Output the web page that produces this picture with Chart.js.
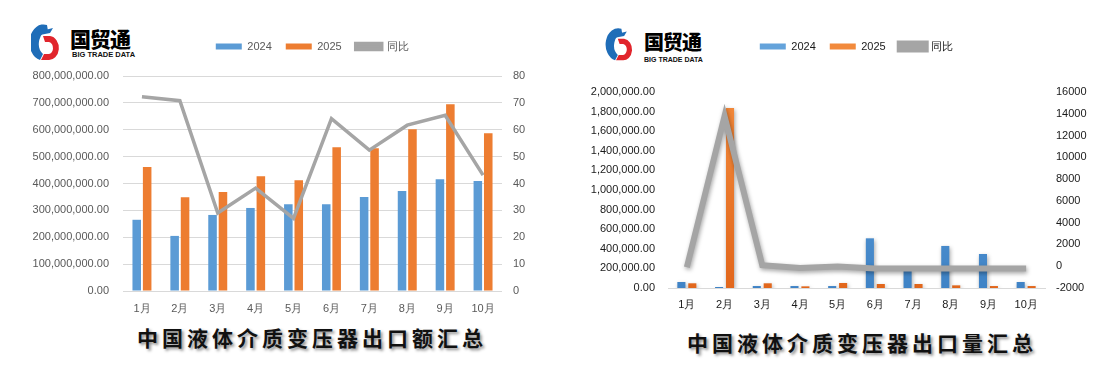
<!DOCTYPE html>
<html><head><meta charset="utf-8">
<script src="https://cdn.jsdelivr.net/npm/chart.js@4.4.1/dist/chart.umd.min.js"></script>
<style>
html,body{margin:0;padding:0;background:#fff;}
body{width:1109px;height:380px;position:relative;overflow:hidden;font-family:"Liberation Sans",Arial,sans-serif;}
.panel{position:absolute;top:0;}
.title{position:absolute;font-family:"Noto Sans CJK SC",sans-serif;font-weight:700;font-size:21px;letter-spacing:4px;color:#111;text-shadow:2px 2px 3px rgba(0,0,0,.45);white-space:nowrap;line-height:24px;}
.logo-icon{position:absolute;}
.logo-cn{position:absolute;font-family:"Noto Sans CJK SC",sans-serif;font-weight:900;color:#000;white-space:nowrap;line-height:1;letter-spacing:-1px;}
.logo-en{position:absolute;font-family:"Liberation Sans",Arial,sans-serif;font-weight:700;color:#111;white-space:nowrap;line-height:1;}
</style></head>
<body>
<!-- logos -->
<svg class="logo-icon" style="left:31px;top:23px" width="30" height="40" viewBox="0 0 30 40">
  <path d="M16 2 A14 18 0 0 0 9 37 L12 31 A9 12.5 0 0 1 17 8 Z" fill="#1F6DB8"/>
  <path d="M6 9 L22 5 L19 10 L9 12 Z" fill="#1F6DB8"/>
  <path d="M12 13 L19 13 A9 11 0 0 1 17 37 L10 37 L13 31 L17 31 A4.5 6 0 0 0 18 19 L14 19 Z" fill="#E1252C"/>
</svg>
<div class="logo-cn" style="left:70px;top:28px;font-size:21px;">国贸通</div>
<div class="logo-en" style="left:72px;top:51px;font-size:7.5px;">BIG TRADE DATA</div>

<svg class="logo-icon" style="left:604px;top:27px" width="33" height="36" viewBox="0 0 30 40">
  <path d="M16 2 A14 18 0 0 0 9 37 L12 31 A9 12.5 0 0 1 17 8 Z" fill="#1F6DB8"/>
  <path d="M6 9 L22 5 L19 10 L9 12 Z" fill="#1F6DB8"/>
  <path d="M12 13 L19 13 A9 11 0 0 1 17 37 L10 37 L13 31 L17 31 A4.5 6 0 0 0 18 19 L14 19 Z" fill="#E1252C"/>
</svg>
<div class="logo-cn" style="left:644px;top:32px;font-size:20px;">国贸通</div>
<div class="logo-en" style="left:644px;top:56px;font-size:7px;">BIG TRADE DATA</div>

<div class="panel" style="left:0;"><canvas id="c1" width="555" height="320"></canvas></div>
<div class="panel" style="left:555px;"><canvas id="c2" width="554" height="320"></canvas></div>

<div class="title" style="left:137px;top:325px;">中国液体介质变压器出口额汇总</div>
<div class="title" style="left:687px;top:330px;">中国液体介质变压器出口量汇总</div>

<script>
// ---- data ----
const months = ['1月','2月','3月','4月','5月','6月','7月','8月','9月','10月'];
const seriesNames = ['2024','2025','同比'];
const amount2024 = [265000000, 205000000, 283000000, 309000000, 323000000, 323000000, 350000000, 372000000, 416000000, 409000000];
const amount2025 = [461000000, 349000000, 368000000, 427000000, 412000000, 535000000, 531000000, 602000000, 695000000, 587000000];
const amountYoY  = [72.3, 70.8, 29.0, 38.3, 27.0, 64.1, 52.4, 61.7, 65.4, 43.1];
const qty2024 = [61000, 10000, 20000, 20000, 20000, 507000, 187000, 429000, 347000, 61000];
const qty2025 = [48000, 1836000, 48000, 17000, 51000, 41000, 41000, 27000, 20000, 20000];
const qtyYoY  = [-100, 13800, 100, -170, -30, -200, -200, -200, -200, -200];

Chart.defaults.font.family = "'Liberation Sans', Arial, sans-serif";
Chart.defaults.font.size = 11;

const fmt2 = v => Number(v).toLocaleString('en-US',{minimumFractionDigits:2, maximumFractionDigits:2});
const byIndex = (a, b) => a.datasetIndex - b.datasetIndex;

// ---- chart 1 : amount ----
const c1Color = '#595959';
new Chart(document.getElementById('c1'), {
  type: 'bar',
  data: {
    labels: months,
    datasets: [
      {label: seriesNames[0], data: amount2024, backgroundColor:'#5B9BD5', yAxisID:'y', order:1, categoryPercentage:0.55, barPercentage:0.82},
      {label: seriesNames[1], data: amount2025, backgroundColor:'#ED7D31', yAxisID:'y', order:1, categoryPercentage:0.55, barPercentage:0.82},
      {type:'line', label: seriesNames[2], data: amountYoY, borderColor:'#A5A5A5', backgroundColor:'#A5A5A5', borderWidth:3.5, pointRadius:0, tension:0, yAxisID:'y1', order:0}
    ]
  },
  options: {
    responsive:false, animation:false, devicePixelRatio:1,
    layout:{padding:{top:27,left:0,right:0,bottom:0}},
    plugins:{
      legend:{fullSize:false, labels:{boxWidth:26, boxHeight:6, padding:14, color:c1Color, font:{size:11}, sort:byIndex}},
      title:{display:true, text:' ', weight:500, font:{size:1}, padding:{top:0,bottom:12.8}},
      tooltip:{enabled:false}
    },
    scales:{
      x:{grid:{display:false, drawTicks:false}, border:{display:false}, ticks:{padding:11, color:c1Color, font:{size:11}}, afterFit:s=>{s.height=29;}},
      y:{position:'left', min:0, max:800000000, ticks:{stepSize:100000000, padding:14, color:c1Color, callback:v=>fmt2(v)}, grid:{color:'#D9D9D9', drawTicks:false}, border:{display:false}, afterFit:s=>{s.width=123;}},
      y1:{position:'right', min:0, max:80, ticks:{stepSize:10, padding:11, color:c1Color, callback:v=>String(v)}, grid:{display:false, drawTicks:false}, border:{display:false}, afterFit:s=>{s.width=53;}}
    }
  }
});

// ---- chart 2 : quantity ----
const c2Color = '#1a1a1a';
function vgrad(a, b){
  return ctx => {
    const ca = ctx.chart.chartArea;
    if (!ca) return a;
    const g = ctx.chart.ctx.createLinearGradient(0, ca.top, 0, ca.bottom);
    g.addColorStop(0, a); g.addColorStop(1, b);
    return g;
  };
}
const shadowPlugin = {
  id:'shadow',
  beforeDatasetDraw(chart, args){
    const ctx = chart.ctx; ctx.save();
    ctx.shadowColor = 'rgba(0,0,0,0.35)';
    ctx.shadowBlur = 4; ctx.shadowOffsetX = 1; ctx.shadowOffsetY = 2;
  },
  afterDatasetDraw(chart){ chart.ctx.restore(); }
};
new Chart(document.getElementById('c2'), {
  type: 'bar',
  data: {
    labels: months,
    datasets: [
      {label: seriesNames[0], data: qty2024, backgroundColor:vgrad('#64A3DB','#3F83C6'), yAxisID:'y', order:1, categoryPercentage:0.58, barPercentage:0.74},
      {label: seriesNames[1], data: qty2025, backgroundColor:vgrad('#F28A3C','#E2671C'), yAxisID:'y', order:1, categoryPercentage:0.58, barPercentage:0.74},
      {type:'line', label: seriesNames[2], data: qtyYoY, borderColor:'#A5A5A5', backgroundColor:'#A5A5A5', borderWidth:6, pointRadius:0, tension:0, yAxisID:'y1', order:0}
    ]
  },
  options: {
    responsive:false, animation:false, devicePixelRatio:1,
    layout:{padding:{top:27,left:0,right:0,bottom:0}},
    plugins:{
      legend:{fullSize:false, labels:{boxWidth:26, boxHeight:6, padding:14, color:c2Color, font:{size:11}, sort:byIndex}},
      title:{display:true, text:' ', weight:500, font:{size:1}, padding:{top:0,bottom:28.8}},
      tooltip:{enabled:false}
    },
    scales:{
      x:{grid:{display:false, drawTicks:false}, border:{display:true, color:'#D9D9D9'}, ticks:{padding:10, color:c2Color, font:{size:11}}, afterFit:s=>{s.height=32;}},
      y:{position:'left', min:0, max:2000000, ticks:{stepSize:200000, padding:13, color:c2Color, callback:v=>fmt2(v)}, grid:{display:false, drawTicks:false}, border:{display:false}, afterFit:s=>{s.width=113;}},
      y1:{position:'right', min:-2000, max:16000, ticks:{stepSize:2000, padding:11, color:c2Color, callback:v=>String(v)}, grid:{display:false, drawTicks:false}, border:{display:false}, afterFit:s=>{s.width=64;}}
    }
  },
  plugins:[shadowPlugin]
});
</script>
</body></html>
